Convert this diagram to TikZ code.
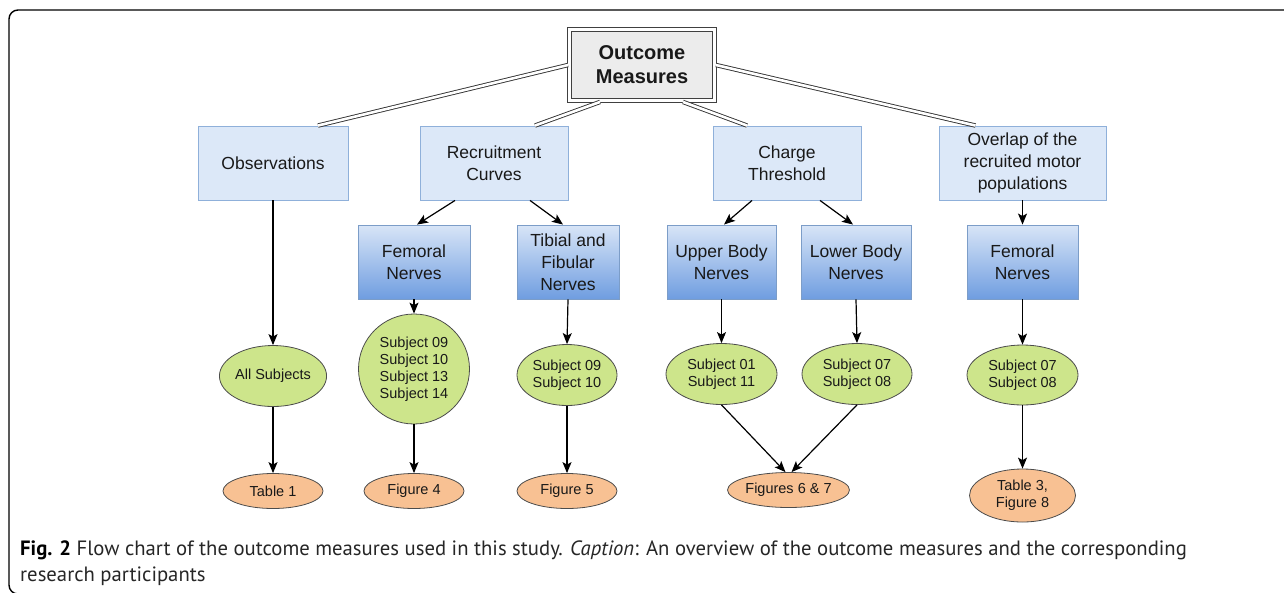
\documentclass[tikz,border=0pt]{standalone}
\usepackage{fontspec}
\setmainfont{Liberation Sans}
\newfontfamily\capfont{PT Sans}
\usetikzlibrary{arrows.meta,calc,shapes.geometric}
\definecolor{lvltwo}{HTML}{DCE8F8}
\definecolor{lvltwoedge}{HTML}{8FB0DA}
\definecolor{gradtop}{HTML}{D8E5F7}
\definecolor{gradbot}{HTML}{6F9DE0}
\definecolor{gradedge}{HTML}{7C9DC8}
\definecolor{greenfill}{HTML}{CDE58B}
\definecolor{orangefill}{HTML}{F8C193}
\definecolor{omfill}{HTML}{ECECEC}
\tikzset{
  every node/.style={inner sep=0pt, align=center, text=black!90},
  ombox/.style={draw=black!75, line width=0.9pt, fill=omfill,
     minimum width=141pt, minimum height=67pt, font=\fontsize{20}{24}\selectfont\bfseries},
  topbox/.style={draw=lvltwoedge, line width=0.9pt, fill=lvltwo, minimum height=74pt,
     font=\fontsize{17.5}{22}\selectfont},
  gradbox/.style={draw=gradedge, line width=0.9pt, top color=gradtop, bottom color=gradbot, minimum height=74pt,
     font=\fontsize{17.5}{22}\selectfont},
  subj/.style={ellipse, draw=black!70, line width=0.8pt, fill=greenfill, font=\fontsize{14.5}{17}\selectfont},
  result/.style={ellipse, draw=black!70, line width=0.8pt, fill=orangefill, font=\fontsize{14.5}{17}\selectfont},
  dbl/.style={draw=black!80, double=white, double distance=2.6pt, line width=0.9pt},
  arr/.style={-{Stealth[length=11pt,width=9pt,inset=2.5pt]}, line width=1.2pt, draw=black},
}
\begin{document}
\begin{tikzpicture}[x=1pt,y=-1pt]
\useasboundingbox (0,0) rectangle (1284,592);
\clip (0,0) rectangle (1284,592);
% frame
\draw[line width=1.4pt, rounded corners=9pt] (1300,10) -- (9,10) -- (9,594) -- (40,594);

% nodes
\node[ombox] (om) at (642,65) {Outcome\\Measures};
\draw[draw=black!75, line width=0.9pt] ([shift={(-3.2pt,3.2pt)}]om.north west) rectangle ([shift={(3.2pt,-3.2pt)}]om.south east);
\node[topbox, minimum width=150pt] (obs) at (273,163) {Observations};
\node[topbox, minimum width=148pt] (rc) at (494,163) {Recruitment\\Curves};
\node[topbox, minimum width=148pt] (ct) at (787,163) {Charge\\Threshold};
\node[topbox, minimum width=167pt] (ov) at (1022.5,163) {Overlap of the\\recruited motor\\populations};

\node[gradbox, minimum width=112pt] (fn1) at (414,262) {Femoral\\Nerves};
\node[gradbox, minimum width=102pt] (tf) at (568,262) {Tibial and\\Fibular\\Nerves};
\node[gradbox, minimum width=109pt] (ub) at (721.5,262) {Upper Body\\Nerves};
\node[gradbox, minimum width=110pt] (lb) at (856,262) {Lower Body\\Nerves};
\node[gradbox, minimum width=111pt] (fn2) at (1022.5,262) {Femoral\\Nerves};

\node[subj, minimum width=100pt, minimum height=61pt] (s1) at (273,376) {All Subjects};
\node[subj, minimum width=111pt, minimum height=110pt] (s2) at (414,369) {Subject 09\\Subject 10\\Subject 13\\Subject 14};
\node[subj, minimum width=100pt, minimum height=61pt] (s3) at (567,375) {Subject 09\\Subject 10};
\node[subj, minimum width=111pt, minimum height=61pt] (s4) at (721.5,374) {Subject 01\\Subject 11};
\node[subj, minimum width=110pt, minimum height=61pt] (s5) at (857,374) {Subject 07\\Subject 08};
\node[subj, minimum width=111pt, minimum height=60pt] (s6) at (1022.5,375) {Subject 07\\Subject 08};

\node[result, minimum width=100pt, minimum height=35pt] (r1) at (273,491) {Table 1};
\node[result, minimum width=100pt, minimum height=35pt] (r2) at (414,491) {Figure 4};
\node[result, minimum width=100pt, minimum height=35pt] (r3) at (567,491) {Figure 5};
\node[result, minimum width=100pt, minimum height=35pt] (r4) at (788.5,490) {Figures 6 \& 7};
\node[result, minimum width=106pt, minimum height=53pt] (r5) at (1022.5,495.5) {Table 3,\\Figure 8};

% double connectors
\draw[dbl] ([xshift=-3pt]om.west) -- ([xshift=45pt]obs.north);
\draw[dbl] ([xshift=-42pt,yshift=-3pt]om.south) -- ([xshift=41pt]rc.north);
\draw[dbl] ([xshift=41pt,yshift=-3pt]om.south) -- ([xshift=-40pt]ct.north);
\draw[dbl] ([xshift=3pt]om.east) -- ([xshift=-47pt]ov.north);

% arrows
\draw[arr] (obs.south) -- (s1.north);
\draw[arr] ([xshift=-39pt]rc.south) -- ([xshift=3pt]fn1.north);
\draw[arr] ([xshift=36pt]rc.south) -- ([xshift=-5pt]tf.north);
\draw[arr] ([xshift=-35pt]ct.south) -- ([xshift=2.5pt]ub.north);
\draw[arr] ([xshift=33pt]ct.south) -- ([xshift=-3pt]lb.north);
\draw[arr] (ov.south) -- (fn2.north);

\draw[arr] (fn1.south) -- (s2.north);
\draw[arr] (tf.south) -- (s3.north);
\draw[arr] (ub.south) -- (s4.north);
\draw[arr] (lb.south) -- (s5.north);
\draw[arr] (fn2.south) -- (s6.north);

\draw[arr] (s1.south) -- (r1.north);
\draw[arr] (s2.south) -- (r2.north);
\draw[arr] (s3.south) -- (r3.north);
\draw[arr] (s4.south) -- ([xshift=-3pt]r4.north);
\draw[arr] (s5.south) -- ([xshift=3pt]r4.north);
\draw[arr] (s6.south) -- (r5.north);

% caption
\node[anchor=base west, font=\capfont\fontsize{20.7}{24}\selectfont, text=black!85] (cap1) at (20,555)
  {{\bfseries\color{black}Fig. 2} Flow chart of the outcome measures used in this study. \textit{Caption}: An overview of the outcome measures and the corresponding};
\node[anchor=base west, font=\capfont\fontsize{20.7}{24}\selectfont, text=black!85] (cap2) at (20,581)
  {research participants};
\end{tikzpicture}
\end{document}
